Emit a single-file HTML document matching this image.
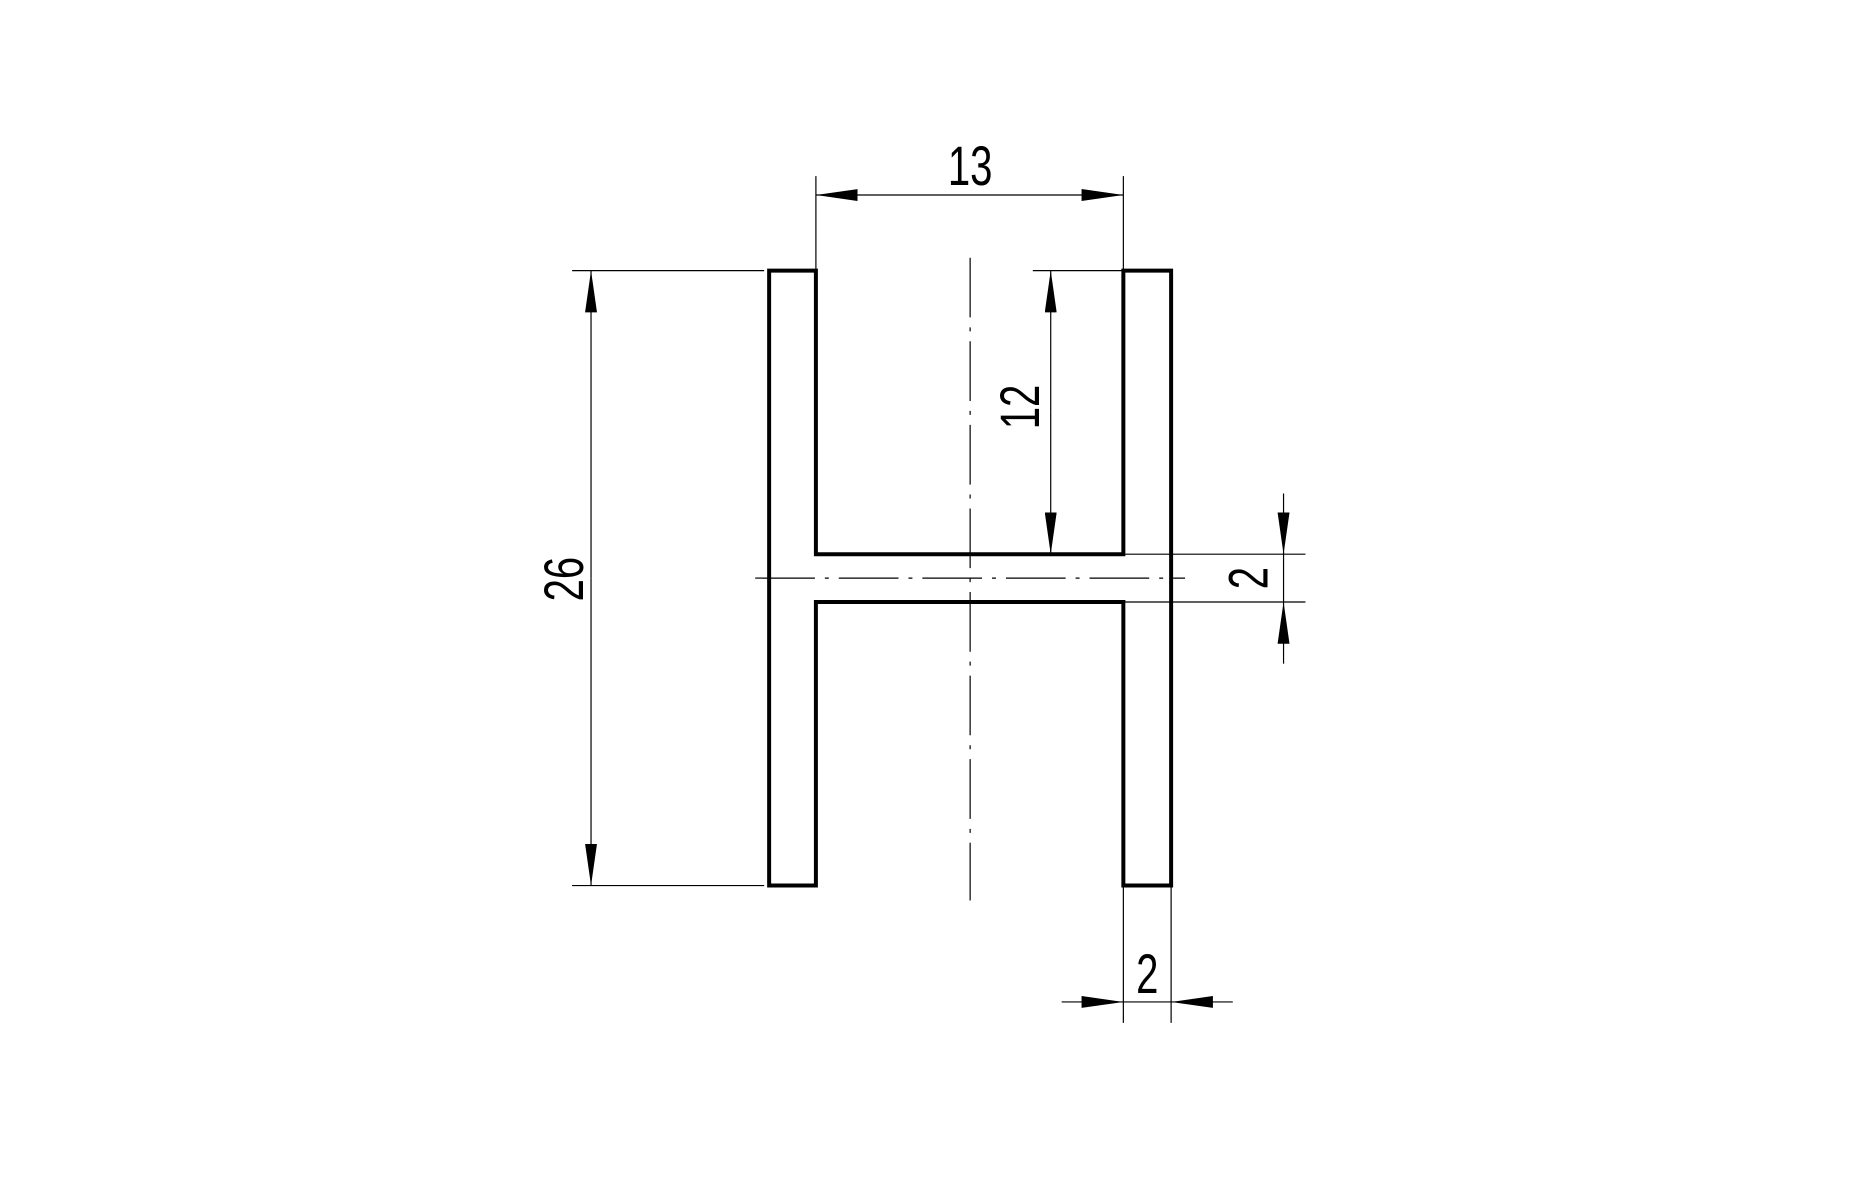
<!DOCTYPE html>
<html><head><meta charset="utf-8"><style>
html,body{margin:0;padding:0;background:#fff;}
svg{display:block;}
text{font-family:"Liberation Sans","DejaVu Sans",sans-serif;font-size:56px;fill:#000;}
</style></head><body>
<svg width="1864" height="1187" viewBox="0 0 1864 1187" xmlns="http://www.w3.org/2000/svg">
<defs>
<marker id="a" viewBox="0 0 42 12" refX="42" refY="6" markerWidth="42" markerHeight="12" markerUnits="userSpaceOnUse" orient="auto">
<path d="M0,0 L42,6 L0,12 Z" fill="#000"/>
</marker>
</defs>
<g transform="scale(0.995)">
<path d="M773,272 L820,272 L820,557 L1129,557 L1129,272 L1177,272 L1177,890 L1129,890 L1129,605 L820,605 L820,890 L773,890 Z" fill="none" stroke="#000" stroke-width="4" stroke-linejoin="miter"/>
<g stroke="#000" stroke-width="1.2" fill="none">
<line x1="975" y1="259" x2="975" y2="905" stroke-dasharray="60,10,4,10"/>
<line x1="759" y1="581" x2="1191" y2="581" stroke-dasharray="60,10,4,10"/>
</g>
<g stroke="#000" stroke-width="1.2" fill="none">
<line x1="820" y1="177" x2="820" y2="272"/>
<line x1="1129" y1="177" x2="1129" y2="272"/>
<line x1="897" y1="196" x2="820" y2="196" marker-end="url(#a)"/>
<line x1="897" y1="196" x2="1129" y2="196" marker-end="url(#a)"/>
<line x1="575" y1="272" x2="768" y2="272"/>
<line x1="575" y1="890" x2="768" y2="890"/>
<line x1="594" y1="581" x2="594" y2="272" marker-end="url(#a)"/>
<line x1="594" y1="581" x2="594" y2="890" marker-end="url(#a)"/>
<line x1="1038" y1="272" x2="1129" y2="272"/>
<line x1="1056" y1="414" x2="1056" y2="272" marker-end="url(#a)"/>
<line x1="1056" y1="414" x2="1056" y2="557" marker-end="url(#a)"/>
<line x1="1129" y1="557" x2="1312" y2="557"/>
<line x1="1129" y1="605" x2="1312" y2="605"/>
<line x1="1290" y1="496" x2="1290" y2="557" marker-end="url(#a)"/>
<line x1="1290" y1="667" x2="1290" y2="605" marker-end="url(#a)"/>
<line x1="1290" y1="557" x2="1290" y2="605"/>
<line x1="1129" y1="890" x2="1129" y2="1028"/>
<line x1="1177" y1="890" x2="1177" y2="1028"/>
<line x1="1067" y1="1007" x2="1129" y2="1007" marker-end="url(#a)"/>
<line x1="1239" y1="1007" x2="1177" y2="1007" marker-end="url(#a)"/>
<line x1="1129" y1="1007" x2="1177" y2="1007"/>
</g>
<text x="975" y="186" text-anchor="middle" transform="translate(975 0) scale(0.72 1) translate(-975 0)">13</text>
<text x="0" y="0" text-anchor="middle" transform="translate(590 582) rotate(-90) scale(0.72 1) translate(0 -4)">26</text>
<text x="0" y="0" text-anchor="middle" transform="translate(1048 409) rotate(-90) scale(0.72 1) translate(0 -4)">12</text>
<text x="0" y="0" text-anchor="middle" transform="translate(1280 581) rotate(-90) scale(0.72 1) translate(0 -6)">2</text>
<text x="1153" y="998" text-anchor="middle" transform="translate(1153 0) scale(0.72 1) translate(-1153 0)">2</text>
</g>
</svg>
</body></html>
